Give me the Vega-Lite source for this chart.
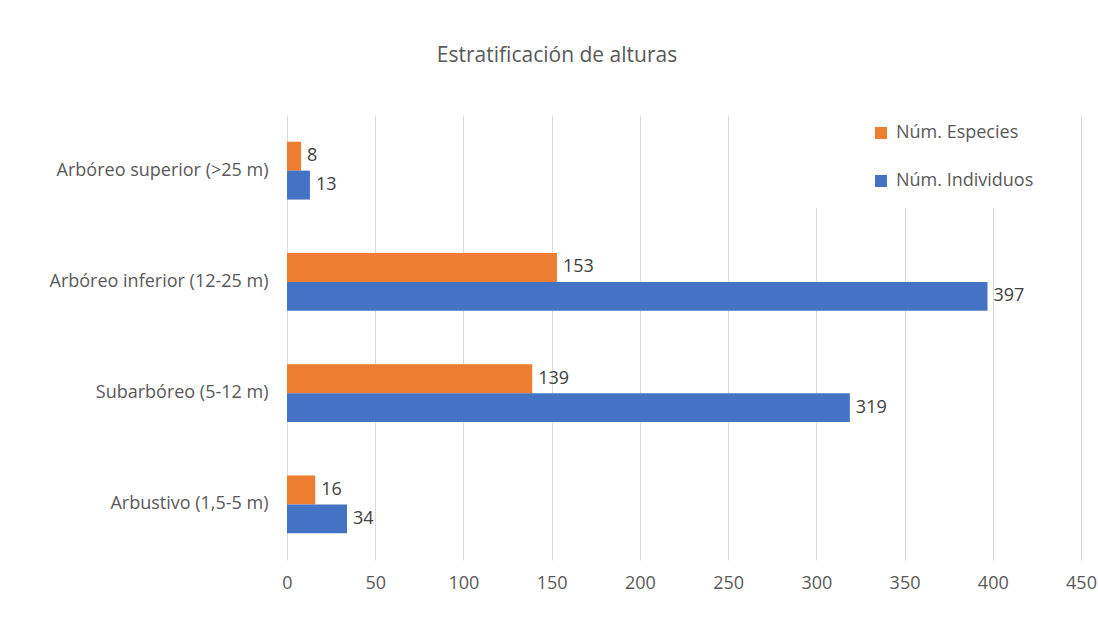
{
  "$schema": "https://vega.github.io/schema/vega-lite/v6.json",
  "autosize": "none",
  "width": 794,
  "height": 445,
  "padding": {"left": 287, "top": 115, "right": 17, "bottom": 62},
  "background": "white",
  "title": {
    "text": "Estratificación de alturas",
    "fontSize": 21,
    "font": "Open Sans",
    "fontWeight": "normal",
    "color": "#595959",
    "anchor": "middle",
    "dx": -127,
    "offset": 40
  },
  "data": {
    "values": [
      {"estrato": "Arbóreo superior (>25 m)", "serie": "Núm. Especies", "valor": 8},
      {"estrato": "Arbóreo superior (>25 m)", "serie": "Núm. Individuos", "valor": 13},
      {"estrato": "Arbóreo inferior (12-25 m)", "serie": "Núm. Especies", "valor": 153},
      {"estrato": "Arbóreo inferior (12-25 m)", "serie": "Núm. Individuos", "valor": 397},
      {"estrato": "Subarbóreo (5-12 m)", "serie": "Núm. Especies", "valor": 139},
      {"estrato": "Subarbóreo (5-12 m)", "serie": "Núm. Individuos", "valor": 319},
      {"estrato": "Arbustivo (1,5-5 m)", "serie": "Núm. Especies", "valor": 16},
      {"estrato": "Arbustivo (1,5-5 m)", "serie": "Núm. Individuos", "valor": 34}
    ]
  },
  "encoding": {
    "y": {
      "field": "estrato",
      "type": "nominal",
      "sort": null,
      "scale": {"paddingInner": 0.48, "paddingOuter": 0.24},
      "axis": {
        "title": null,
        "ticks": false,
        "domain": false,
        "labelFont": "Open Sans",
        "labelFontSize": 18,
        "labelColor": "#595959",
        "labelPadding": 19,
        "labelLimit": 400
      }
    },
    "yOffset": {
      "field": "serie",
      "type": "nominal",
      "sort": ["Núm. Especies", "Núm. Individuos"],
      "scale": {"paddingInner": 0, "paddingOuter": 0}
    },
    "x": {
      "field": "valor",
      "type": "quantitative",
      "scale": {"domain": [0, 450], "nice": false},
      "axis": {
        "title": null,
        "values": [0, 50, 100, 150, 200, 250, 300, 350, 400, 450],
        "ticks": false,
        "domain": false,
        "grid": true,
        "gridColor": "#d9d9d9",
        "gridWidth": 1,
        "labelFont": "Open Sans",
        "labelFontSize": 18,
        "labelColor": "#595959",
        "labelPadding": 14,
        "labelFlush": false
      }
    }
  },
  "layer": [
    {
      "mark": {"type": "bar"},
      "encoding": {
        "color": {
          "field": "serie",
          "type": "nominal",
          "sort": ["Núm. Especies", "Núm. Individuos"],
          "scale": {
            "domain": ["Núm. Especies", "Núm. Individuos"],
            "range": ["#ED7D31", "#4472C4"]
          },
          "legend": {
            "title": "\u00a0",
            "titleOrient": "left",
            "titlePadding": 64,
            "titleFontSize": 18,
            "orient": "none",
            "legendX": 503,
            "legendY": -9,
            "direction": "vertical",
            "symbolType": "square",
            "symbolSize": 144,
            "symbolStrokeWidth": 0,
            "labelOffset": 6,
            "labelFont": "Open Sans",
            "labelFontSize": 18,
            "labelColor": "#595959",
            "rowPadding": 30,
            "padding": 18,
            "fillColor": "white",
            "labelLimit": 300
          }
        }
      }
    },
    {
      "mark": {
        "type": "text",
        "align": "left",
        "baseline": "middle",
        "dx": 6,
        "font": "Open Sans",
        "fontSize": 18,
        "color": "#404040"
      },
      "encoding": {
        "text": {"field": "valor", "type": "quantitative"}
      }
    }
  ],
  "config": {
    "view": {"stroke": null}
  }
}
